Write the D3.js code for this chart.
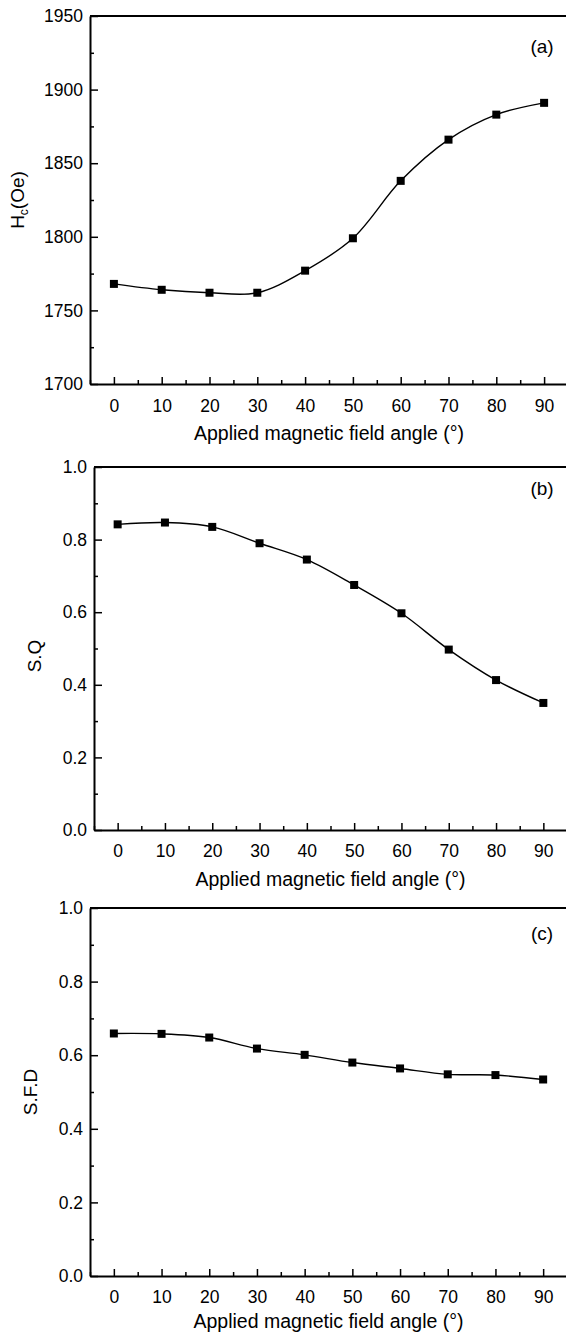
<!DOCTYPE html>
<html>
<head>
<meta charset="utf-8">
<script src="https://cdn.jsdelivr.net/npm/d3@7"></script>
<style>
  body { margin: 0; background: #fff; }
  svg { display: block; font-family: "Liberation Sans", Arial, sans-serif; }
  .axis text { font-size: 17.5px; fill: #000; }
  .axis path, .axis line { stroke: #000; }
</style>
</head>
<body>
<svg id="chart" width="566" height="1334"></svg>
<script>
// data
var angles = [0, 10, 20, 30, 40, 50, 60, 70, 80, 90];
var hcValues = [1768, 1764, 1762, 1762, 1777, 1799, 1838, 1866, 1883, 1891];
var sqValues = [0.842, 0.847, 0.835, 0.79, 0.745, 0.675, 0.597, 0.497, 0.413, 0.35];
var sfdValues = [0.659, 0.658, 0.648, 0.618, 0.601, 0.58, 0.564, 0.548, 0.546, 0.534];

var xTicks = [0, 10, 20, 30, 40, 50, 60, 70, 80, 90];
var xMinor = [-5, 5, 15, 25, 35, 45, 55, 65, 75, 85, 95];
var hcTicks = [1700, 1750, 1800, 1850, 1900, 1950];
var hcMinor = [1725, 1775, 1825, 1875, 1925];
var ratioTicks = [0.0, 0.2, 0.4, 0.6, 0.8, 1.0];
var ratioMinor = [0.1, 0.3, 0.5, 0.7, 0.9];

var xTitle = "Applied magnetic field angle (\u00B0)";

var panels = [
  { values: hcValues, yDomain: [1700, 1950], ticks: hcTicks, minor: hcMinor, fmt: d3.format("d"),
    top: 16, bottom: 384, left: 90, right: 568, letter: "(a)", letterY: 53,
    title: "Hc", titleX: 24, titleY: 200, labelY: 406, xTitleY: 440 },
  { values: sqValues, yDomain: [0, 1], ticks: ratioTicks, minor: ratioMinor, fmt: d3.format(".1f"),
    top: 467, bottom: 830, left: 94, right: 567, letter: "(b)", letterY: 495,
    title: "S.Q", titleX: 41, titleY: 656, labelY: 851, xTitleY: 886 },
  { values: sfdValues, yDomain: [0, 1], ticks: ratioTicks, minor: ratioMinor, fmt: d3.format(".1f"),
    top: 908, bottom: 1276, left: 90, right: 567, letter: "(c)", letterY: 940,
    title: "S.F.D", titleX: 37, titleY: 1092, labelY: 1297, xTitleY: 1328 }
];

var svg = d3.select("#chart");

panels.forEach(function(p) {
  var x = d3.scaleLinear().domain([-5, 95]).range([p.left, p.right]);
  var y = d3.scaleLinear().domain(p.yDomain).range([p.bottom, p.top]);

  var g = svg.append("g");

  // left axis, ticks pointing in
  g.append("g")
    .attr("class", "axis")
    .attr("transform", "translate(" + p.left + ",0)")
    .call(d3.axisLeft(y).tickValues(p.ticks).tickFormat(p.fmt).tickSizeInner(-8).tickSizeOuter(0).tickPadding(7))
    .call(function(a) { a.select(".domain").attr("stroke-width", 2); a.selectAll("line").attr("stroke-width", 1.5); });
  g.append("g")
    .attr("class", "axis")
    .attr("transform", "translate(" + p.left + ",0)")
    .call(d3.axisLeft(y).tickValues(p.minor).tickFormat("").tickSizeInner(-4).tickSizeOuter(0))
    .call(function(a) { a.select(".domain").remove(); a.selectAll("line").attr("stroke-width", 1.5); });

  // bottom axis
  var xa = g.append("g")
    .attr("class", "axis")
    .attr("transform", "translate(0," + p.bottom + ")")
    .call(d3.axisBottom(x).tickValues(xTicks).tickFormat(d3.format("d")).tickSizeInner(-7).tickSizeOuter(0).tickPadding(0));
  xa.select(".domain").attr("stroke-width", 2);
  xa.selectAll("line").attr("stroke-width", 1.5);
  xa.selectAll("text").attr("dy", null).attr("y", p.labelY - p.bottom + 6);
  g.append("g")
    .attr("class", "axis")
    .attr("transform", "translate(0," + p.bottom + ")")
    .call(d3.axisBottom(x).tickValues(xMinor).tickFormat("").tickSizeInner(-4).tickSizeOuter(0))
    .call(function(a) { a.select(".domain").remove(); a.selectAll("line").attr("stroke-width", 1.5); });

  // top frame
  g.append("line")
    .attr("x1", p.left).attr("x2", p.right)
    .attr("y1", p.top).attr("y2", p.top)
    .attr("stroke", "#000").attr("stroke-width", 2);

  // data line
  var pts = angles.map(function(a, i) { return [a, p.values[i]]; });
  var line = d3.line()
    .x(function(d) { return x(d[0]); })
    .y(function(d) { return y(d[1]); })
    .curve(d3.curveCatmullRom);
  g.append("path")
    .datum(pts)
    .attr("d", line)
    .attr("fill", "none")
    .attr("stroke", "#000")
    .attr("stroke-width", 1.4);

  g.selectAll(".pt")
    .data(pts)
    .enter().append("rect")
      .attr("class", "pt")
      .attr("x", function(d) { return x(d[0]) - 4; })
      .attr("y", function(d) { return y(d[1]) - 4; })
      .attr("width", 8)
      .attr("height", 8)
      .attr("fill", "#000");

  // panel letter
  g.append("text")
    .attr("x", 542).attr("y", p.letterY)
    .attr("text-anchor", "middle")
    .style("font-size", "19px")
    .text(p.letter);

  // x title
  g.append("text")
    .attr("x", (p.left + p.right) / 2).attr("y", p.xTitleY)
    .attr("text-anchor", "middle")
    .style("font-size", "19.5px")
    .text(xTitle);

  // y title
  var yt = g.append("text")
    .attr("transform", "translate(" + p.titleX + "," + p.titleY + ") rotate(-90)")
    .attr("text-anchor", "middle")
    .style("font-size", "19px");
  if (p.title == "Hc") {
    yt.append("tspan").text("H");
    yt.append("tspan").attr("dy", 4).style("font-size", "12px").text("c");
    yt.append("tspan").attr("dy", -4).text("(Oe)");
  } else {
    yt.text(p.title);
  }
});
</script>
</body>
</html>
